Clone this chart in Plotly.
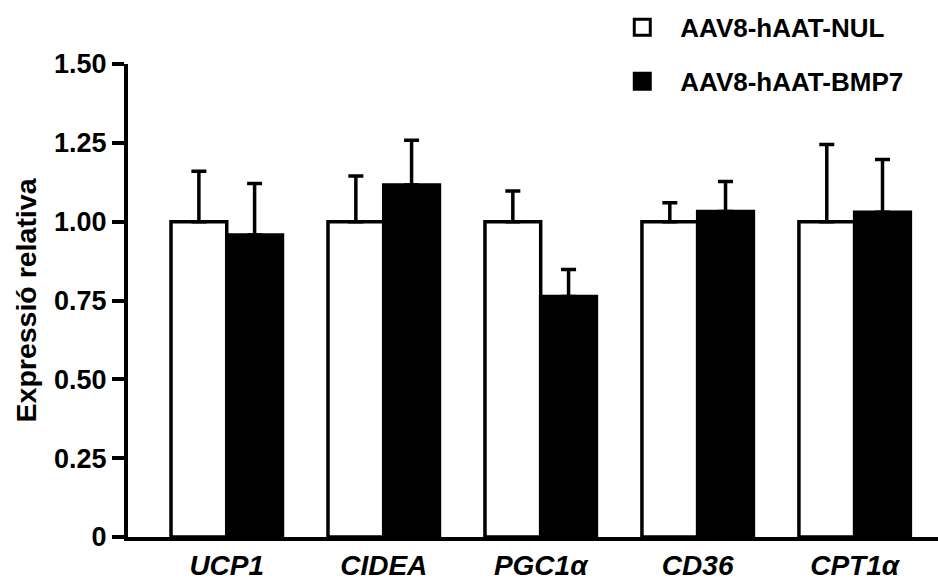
import plotly.graph_objects as go

# Gene expression in tissue, relative to control (mean + SEM)
genes = ["UCP1", "CIDEA", "PGC1α", "CD36", "CPT1α"]
nul_mean = [1.00, 1.00, 1.00, 1.00, 1.00]
nul_sem = [0.16, 0.145, 0.097, 0.06, 0.245]
bmp7_mean = [0.958, 1.116, 0.763, 1.032, 1.03]
bmp7_sem = [0.163, 0.142, 0.085, 0.095, 0.167]

series_names = ["AAV8-hAAT-NUL", "AAV8-hAAT-BMP7"]
series_fill = ["white", "black"]

ytick_vals = [0, 0.25, 0.5, 0.75, 1.0, 1.25, 1.5]
ytick_text = ["0", "0.25", "0.50", "0.75", "1.00", "1.25", "1.50"]

FONT = "Liberation Sans, Arial, sans-serif"

fig = go.Figure()

for name, fill, mean, sem in zip(series_names, series_fill,
                                 [nul_mean, bmp7_mean], [nul_sem, bmp7_sem]):
    fig.add_trace(go.Bar(
        x=genes, y=mean, name=name, showlegend=False,
        marker=dict(color=fill, line=dict(color="black", width=3.5)),
        error_y=dict(type="data", array=sem, arrayminus=[0] * len(sem),
                     symmetric=False, color="black", thickness=3.5, width=7.5),
    ))

# Legend entries as square markers
for i, (name, fill) in enumerate(zip(series_names, series_fill)):
    fig.add_trace(go.Scatter(
        x=[None], y=[None], mode="markers", name=name,
        legendgroup=f"g{i}",
        marker=dict(symbol="square", size=16, color=fill,
                    line=dict(color="black", width=3)),
    ))

fig.update_layout(
    width=938, height=581,
    margin=dict(l=128, r=0, t=64, b=41),
    paper_bgcolor="white", plot_bgcolor="white",
    barmode="group", bargap=0.29, bargroupgap=0,
    font=dict(family=FONT, color="black", size=26, weight="bold"),
    showlegend=True,
    legend=dict(x=0.588, y=1.127, xanchor="left", yanchor="top",
                font=dict(family=FONT, size=26, weight="bold", color="black"),
                itemwidth=66, traceorder="grouped", tracegroupgap=17,
                bgcolor="rgba(0,0,0,0)"),
)

fig.update_xaxes(
    range=[-0.629, 4.531], showline=True, linecolor="black", linewidth=4,
    ticks="", showgrid=False, zeroline=False,
    tickfont=dict(family=FONT, size=28, weight="bold", style="italic"),
)
fig.update_yaxes(
    range=[0, 1.5], showline=True, linecolor="black", linewidth=4,
    ticks="outside", ticklen=12, tickwidth=4, tickcolor="black",
    tickvals=ytick_vals, ticktext=ytick_text,
    showgrid=False, zeroline=False,
    tickfont=dict(family=FONT, size=27, weight="bold"),
    title=dict(text="Expressió relativa", standoff=10,
               font=dict(family=FONT, size=28.5, weight="bold")),
)

fig.write_html("out.html")
